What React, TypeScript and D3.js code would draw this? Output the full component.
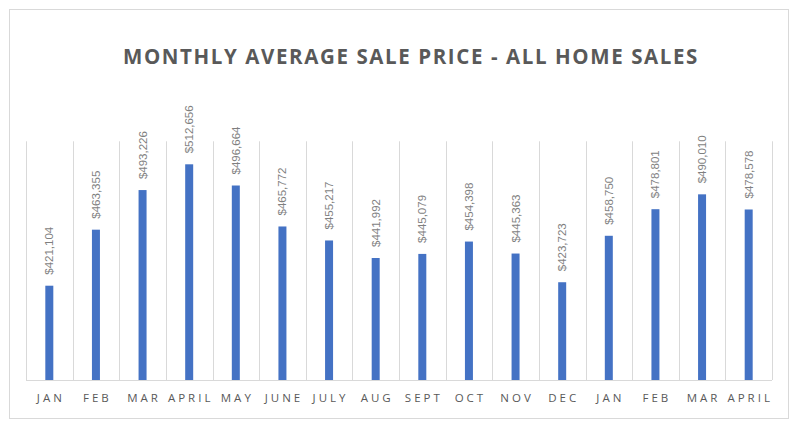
import React from "react";
import * as d3 from "d3";

const categories = ["JAN", "FEB", "MAR", "APRIL", "MAY", "JUNE", "JULY", "AUG", "SEPT", "OCT", "NOV", "DEC", "JAN", "FEB", "MAR", "APRIL"];
const prices = [421104, 463355, 493226, 512656, 496664, 465772, 455217, 441992, 445079, 454398, 445363, 423723, 458750, 478801, 490010, 478578];
const yDomain = [350000, 530000];
const title = "MONTHLY AVERAGE SALE PRICE - ALL HOME SALES";

export default function App() {
  const W = 803, H = 428;
  const left = 26, right = 772, top = 141.3, bottom = 380;
  const keys = categories.map((_, i) => String(i));
  const x = d3.scaleBand<string>().domain(keys).range([left, right]).paddingInner(0).paddingOuter(0);
  const y = d3.scaleLinear().domain(yDomain).range([bottom, top]);
  const bw = 8;
  const fmt = d3.format("$,");
  const gridXs = d3.range(categories.length + 1).map((i) => left + i * x.bandwidth());

  return (
    <svg width={W} height={H} style={{ position: "absolute", left: 0, top: 0, background: "#fff" }}>
      <rect x={9.5} y={9.5} width={779} height={409} fill="#fff" stroke="#d9d9d9" strokeWidth={1} />
      <text x={411} y={64} textAnchor="middle" fontFamily="'Open Sans', sans-serif" fontWeight={700} fontSize={20.5} letterSpacing={1.6} fill="#595959">
        {title}
      </text>
      {gridXs.map((gx, i) => (
        <line key={"g" + i} x1={Math.round(gx) + 0.5} x2={Math.round(gx) + 0.5} y1={top} y2={bottom} stroke="#d9d9d9" strokeWidth={1} />
      ))}
      <line x1={left} x2={right} y1={bottom + 0.5} y2={bottom + 0.5} stroke="#d9d9d9" strokeWidth={1} />
      {prices.map((v, i) => {
        const cx = (x(String(i)) as number) + x.bandwidth() / 2;
        return (
          <g key={"b" + i}>
            <rect x={cx - bw / 2} y={y(v)} width={bw} height={bottom - y(v)} fill="#4472C4" />
            <text
              transform={`translate(${cx + 4},${y(v) - 11}) rotate(-90)`}
              fontFamily="'Liberation Sans', Arial, sans-serif"
              fontSize={11.5}
              fill="#7f7f7f"
            >
              {fmt(v)}
            </text>
          </g>
        );
      })}
      {categories.map((c, i) => {
        const cx = (x(String(i)) as number) + x.bandwidth() / 2;
        return (
          <text key={"c" + i} x={cx + 1.5} y={402.3} textAnchor="middle" fontFamily="'Open Sans', sans-serif" fontSize={11.5} letterSpacing={3} fill="#595959">
            {c}
          </text>
        );
      })}
    </svg>
  );
}
